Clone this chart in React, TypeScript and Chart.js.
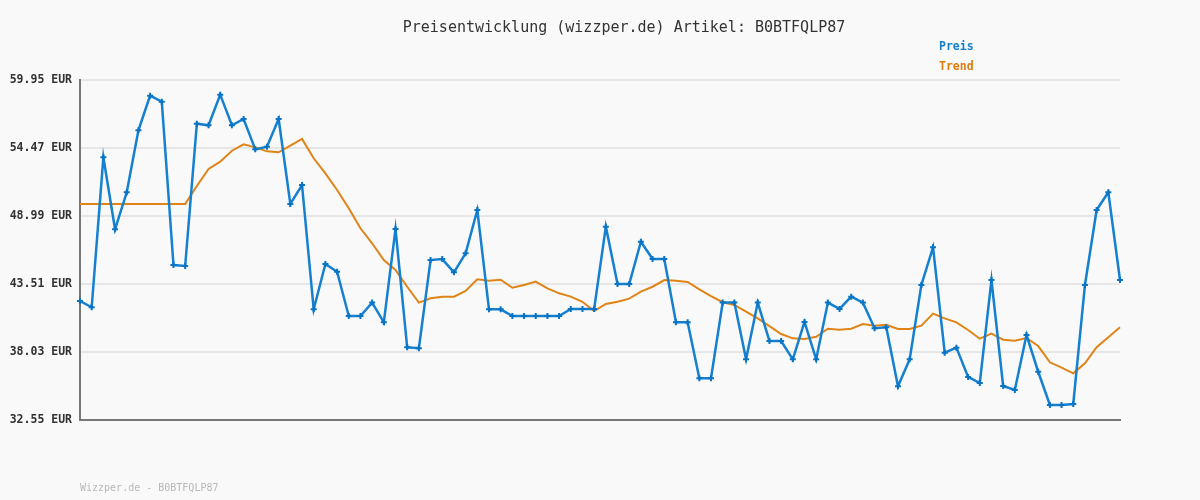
import React, { useEffect, useRef } from "react";
import { Chart, registerables } from "chart.js";

Chart.register(...registerables);

const preis: number[] = [
  42.14, 41.63, 53.72, 47.92, 50.9, 55.9, 58.69, 58.2, 45.04, 44.96,
  56.43, 56.3, 58.77, 56.3, 56.81, 54.36, 54.58, 56.81, 49.96, 51.49,
  41.47, 45.12, 44.5, 40.93, 40.93, 42.01, 40.42, 47.94, 38.41, 38.33,
  45.44, 45.52, 44.45, 45.98, 49.47, 41.47, 41.47, 40.93, 40.93, 40.93,
  40.93, 40.93, 41.5, 41.5, 41.5, 48.13, 43.51, 43.51, 46.92, 45.52,
  45.52, 40.42, 40.42, 35.91, 35.91, 42.01, 42.01, 37.44, 42.01, 38.92,
  38.92, 37.44, 40.45, 37.44, 42.01, 41.5, 42.49, 42.01, 39.94, 40.02,
  35.27, 37.44, 43.43, 46.47, 37.97, 38.38, 36.02, 35.53, 43.83, 35.29,
  34.97, 39.4, 36.44, 33.76, 33.76, 33.84, 43.43, 49.47, 50.9, 43.83,
];

const trend: number[] = [
  49.96, 49.96, 49.96, 49.96, 49.96, 49.96, 49.96, 49.96, 49.96, 49.96,
  51.41, 52.78, 53.37, 54.25, 54.76, 54.52, 54.2, 54.12, 54.66, 55.2,
  53.64, 52.43, 51.09, 49.61, 48.0, 46.79, 45.44, 44.64, 43.29, 42.01,
  42.36, 42.49, 42.49, 42.95, 43.89, 43.78, 43.86, 43.21, 43.43, 43.7,
  43.16, 42.76, 42.49, 42.08, 41.33, 41.9, 42.08, 42.33, 42.89, 43.29,
  43.83, 43.78, 43.67, 43.08, 42.54, 42.04, 41.82, 41.28, 40.74, 40.12,
  39.48, 39.13, 39.08, 39.26, 39.91, 39.83, 39.91, 40.29, 40.15, 40.23,
  39.88, 39.88, 40.15, 41.12, 40.74, 40.42, 39.8, 39.1, 39.51, 39.02,
  38.94, 39.16, 38.51, 37.2, 36.77, 36.31, 37.12, 38.41, 39.21, 40.02,
];

const yTicks: number[] = [32.55, 38.03, 43.51, 48.99, 54.47, 59.95];
const labels: string[] = preis.map((_, i) => String(i + 1));

const titleText = "Preisentwicklung (wizzper.de) Artikel: B0BTFQLP87";
const footerText = "Wizzper.de - B0BTFQLP87";
const legendItems = [
  { text: "Preis", color: "#1580d0" },
  { text: "Trend", color: "#de7c0e" },
];

const MONO = '"DejaVu Sans Mono", "Liberation Mono", monospace';

const decorPlugin = {
  id: "decor",
  beforeDraw(chart: any) {
    const ctx = chart.ctx;
    ctx.save();
    ctx.fillStyle = "#f9f9f9";
    ctx.fillRect(0, 0, chart.width, chart.height);
    ctx.restore();
  },
  afterDraw(chart: any) {
    const ctx = chart.ctx;
    ctx.save();
    ctx.textBaseline = "middle";
    ctx.textAlign = "center";
    ctx.fillStyle = "#333333";
    ctx.font = `15px ${MONO}`;
    ctx.fillText(titleText, 624, 28);

    ctx.textAlign = "left";
    ctx.font = `bold 11.5px ${MONO}`;
    legendItems.forEach((it, i) => {
      ctx.fillStyle = it.color;
      ctx.fillText(it.text, 939, 47 + i * 20);
    });

    ctx.font = `10px ${MONO}`;
    ctx.fillStyle = "#b8b8b8";
    ctx.fillText(footerText, 80, 488);
    ctx.restore();
  },
};

export default function App() {
  const ref = useRef<HTMLCanvasElement | null>(null);

  useEffect(() => {
    document.body.style.margin = "0";
    document.body.style.background = "#f9f9f9";
    if (!ref.current) return;
    const chart = new Chart(ref.current, {
      type: "line",
      data: {
        labels,
        datasets: [
          {
            label: "Preis",
            data: preis,
            borderColor: "#1580d0",
            backgroundColor: "#1580d0",
            borderWidth: 2.5,
            pointStyle: "cross",
            pointRadius: 3,
            pointBorderWidth: 2,
            pointBorderColor: "#0a74c4",
            tension: 0,
            fill: false,
          },
          {
            label: "Trend",
            data: trend,
            borderColor: "#e08418",
            backgroundColor: "#e08418",
            borderWidth: 2,
            pointRadius: 0,
            tension: 0,
            fill: false,
          },
        ],
      },
      options: {
        responsive: false,
        animation: false,
        events: [],
        layout: { padding: { top: 80, right: 80, left: 0, bottom: 0 } },
        plugins: {
          legend: { display: false },
          title: { display: false },
          tooltip: { enabled: false },
        },
        scales: {
          x: {
            type: "category",
            offset: false,
            ticks: { display: false },
            grid: { display: false, drawTicks: false },
            border: { color: "#777777", width: 2 },
            afterFit: (s: any) => {
              s.height = 80;
            },
          },
          y: {
            min: 32.55,
            max: 59.95,
            afterBuildTicks: (s: any) => {
              s.ticks = yTicks.map((v) => ({ value: v }));
            },
            ticks: {
              callback: (v: any) => Number(v).toFixed(2) + " EUR",
              color: "#333333",
              font: { family: MONO, size: 11.5, weight: "bold" },
              padding: 8,
            },
            grid: { color: "#e6e6e6", lineWidth: 2, drawTicks: false },
            border: { color: "#777777", width: 2 },
            afterFit: (s: any) => {
              s.width = 80;
            },
          },
        },
      },
      plugins: [decorPlugin],
    } as any);
    return () => chart.destroy();
  }, []);

  return (
    <div style={{ width: 1200, height: 500 }}>
      <canvas ref={ref} width={1200} height={500} style={{ display: "block" }} />
    </div>
  );
}
